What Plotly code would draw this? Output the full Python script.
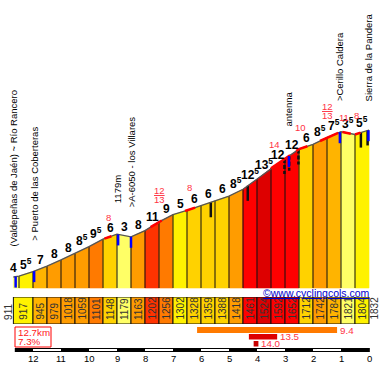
import numpy as np
import plotly.graph_objects as go

# ---------------- data ----------------
km_marks = [12.7, 12.5, 12.0, 11.5, 11.0, 10.5, 10.0, 9.5, 9.0, 8.5, 8.0, 7.5, 7.0,
            6.5, 6.0, 5.5, 5.0, 4.5, 4.0, 3.5, 3.0, 2.5, 2.0, 1.5, 1.0, 0.5, 0.0]
elevations = [911, 917, 945, 979, 1018, 1059, 1101, 1148, 1179, 1163, 1202, 1256, 1302,
              1328, 1359, 1388, 1418, 1461, 1524, 1592, 1652, 1712, 1742, 1784, 1821, 1804, 1832]
gradients = [4, 5.5, 7, 8, 8, 8.5, 9.5, 6, -3, 8, 11, 9, 5,
             6, 6, 6, 8.5, 12.5, 13.5, 12, 12, 6, 8.5, 7.5, -3.5, 5.5]

steep_km = [9.32, 7.5, 6.4, 3.36, 2.46, 1.5, 0.89, 0.46]
steep_labels = ["8", "12/13", "8", "14", "10", "12/13", "11", "8"]
steep_from_km = [9.45, 7.8, 6.57, 3.5, 2.6, 1.75, 0.95, 0.5]
steep_to_km = [9.2, 7.4, 6.21, 2.82, 2.2, 1.1, 0.65, 0.3]

poi_km = [12.7, 11.96, 9.0, 8.5, 2.86, 1.07, 0.03]
poi_names = ["(Valdepeñas de Jaén) ~ Río Rancero", "> Puerto de las Coberteras", "1179m",
             ">A-6050 - los Villares", "antenna", ">Cerillo Caldera", "Sierra de la Pandera"]

blue_km = [12.62, 11.96, 8.96, 8.5, 2.86, 1.04, 0.02]
marker_km = [5.65, 4.33, 3.02, 2.85, 2.52, 0.29, 0.05]
marker_dashed = [False, False, True, True, True, False, False]

km_ticks = [12, 11, 10, 9, 8, 7, 6, 5, 4, 3, 2, 1, 0]
climb_length_km = 12.7
climb_avg_pct = 7.3
best_from_km = [6.14, 4.29, 4.12]
best_to_km = [1.14, 3.28, 3.95]
best_pct = [9.4, 13.5, 14.0]
site = "©www.cyclingcols.com"

# ---------------- layout constants (pixels) ----------------
W, H = 384, 365
X_KM0 = 369.0          # pixel of km 0
PX_KM = 28.0           # pixels per km
Y_START = 277.0        # pixel of first elevation
PX_M = 147.0 / 921.0   # pixels per metre
BASE_PX = 288
TABLE_TOP, TABLE_BOT = 297, 324
FONT = "Liberation Sans, Arial, sans-serif"
RED_TXT = "#FF3344"


def elev_of_px(p):
    return elevations[0] + (Y_START - p) / PX_M


def py(p):
    return 1 - p / H


def px(p):
    return p / W


KM_ASC = km_marks[::-1]
EL_ASC = elevations[::-1]


def elev_at(k):
    return float(np.interp(k, KM_ASC, EL_ASC))


def grad_color(g):
    if g < 5:
        return "#FFFF66"
    if g < 6:
        return "#FFF200"
    if g < 7:
        return "#FFD200"
    if g < 8:
        return "#FFB400"
    if g < 9:
        return "#FF9C00"
    if g < 10:
        return "#FF7A00"
    if g < 12:
        return "#FF3300"
    if g < 13:
        return "#FF0000"
    if g < 14:
        return "#DD0000"
    return "#C80000"


def grad_text(g):
    a = abs(g)
    w = int(a)
    s = str(w) + ("<sup>5</sup>" if a - w >= 0.5 else "")
    return "<b>" + s + "</b>"


BASE = elev_of_px(BASE_PX)
M_PER_PX = 1 / PX_M

fig = go.Figure()

# profile segments
for i in range(len(gradients)):
    k0, k1 = km_marks[i], km_marks[i + 1]
    e0, e1 = elevations[i], elevations[i + 1]
    c = grad_color(gradients[i])
    fig.add_trace(go.Scatter(x=[k0, k0, k1, k1, k0], y=[BASE, e0, e1, BASE, BASE],
                             fill="toself", fillcolor=c, mode="lines",
                             line=dict(width=0.6, color=c), hoverinfo="skip"))

# separators
sx, sy = [], []
for k, e in zip(km_marks[1:-1], elevations[1:-1]):
    sx += [k, k, None]
    sy += [BASE, e, None]
fig.add_trace(go.Scatter(x=sx, y=sy, mode="lines", line=dict(color="#111", width=1), hoverinfo="skip"))

# black markers
for k, d in zip(marker_km, marker_dashed):
    e = elev_at(k)
    fig.add_trace(go.Scatter(x=[k, k], y=[e, e - 15 * M_PER_PX], mode="lines",
                             line=dict(color="#111", width=2.5, dash="4px,2px" if d else "solid"),
                             hoverinfo="skip"))

# profile line
fig.add_trace(go.Scatter(x=km_marks, y=elevations, mode="lines",
                         line=dict(color="#555", width=1.3), hoverinfo="skip"))

# steep red highlights
for a, b in zip(steep_from_km, steep_to_km):
    ks = [a] + [k for k in km_marks if b < k < a] + [b]
    fig.add_trace(go.Scatter(x=ks, y=[elev_at(k) for k in ks], mode="lines",
                             line=dict(color="#FF0000", width=2.5), hoverinfo="skip"))

# blue markers
for k in blue_km:
    e = elev_at(k)
    fig.add_trace(go.Scatter(x=[k, k], y=[e, e - 11 * M_PER_PX], mode="lines",
                             line=dict(color="#0000FF", width=2.5), hoverinfo="skip"))

# elevation table (bars on y2)
t_mid, t_w, t_col, t_lab = [], [], [], []
for j in range(1, len(gradients)):
    k0 = km_marks[0] if j == 1 else km_marks[j]
    k1 = km_marks[j + 1]
    t_mid.append((k0 + k1) / 2)
    t_w.append(k0 - k1)
    t_col.append(grad_color(gradients[j]))
    t_lab.append(str(elevations[j]))
fig.add_trace(go.Bar(x=t_mid, y=[1] * len(t_mid), width=t_w, base=0, yaxis="y2",
                     marker=dict(color=t_col, line=dict(color="#111", width=1)),
                     hoverinfo="skip"))

ann = []
# gradient labels
for i, g in enumerate(gradients):
    km = (km_marks[i] + km_marks[i + 1]) / 2
    ann.append(dict(x=km, y=elev_at(km), text=grad_text(g), showarrow=False,
                    yanchor="bottom", xanchor="center", xshift=-3 if i == 0 else 0,
                    font=dict(family=FONT, size=12, color="#000")))

# steep labels
lifts = [20, 27, 21.5, 21.5, 21, 27, 15, 19]
for k, t, lift in zip(steep_km, steep_labels, lifts):
    e = elev_at(k)
    if "/" in t:
        n, d = t.split("/")
        ann.append(dict(x=k, y=e, text="<u>" + n + "</u>", showarrow=False, yanchor="middle",
                        yshift=lift + 4.5, font=dict(family=FONT, size=9.5, color=RED_TXT)))
        ann.append(dict(x=k, y=e, text=d, showarrow=False, yanchor="middle",
                        yshift=lift - 4.5, font=dict(family=FONT, size=9.5, color=RED_TXT)))
    else:
        ann.append(dict(x=k, y=e, text=t, showarrow=False, yanchor="middle",
                        yshift=lift, font=dict(family=FONT, size=9.5, color=RED_TXT)))

# points of interest
gaps = [29, 28.6, 29, 27, 28, 29, 27]
for k, name, gp in zip(poi_km, poi_names, gaps):
    ann.append(dict(x=k, y=elev_at(k), text=name, showarrow=False, textangle=-90,
                    xanchor="center", yanchor="bottom", yshift=gp,
                    font=dict(family=FONT, size=9.5, color="#000")))

# table labels (read bottom to top)
for m, t in zip(t_mid, t_lab):
    ann.append(dict(x=m, y=py(322), yref="paper", text=t, showarrow=False, textangle=-90,
                    xanchor="center", yanchor="bottom",
                    font=dict(family=FONT, size=10, color="#333")))
ann.append(dict(x=km_marks[0], xshift=-5.5, y=py(322), yref="paper", text=str(elevations[0]),
                showarrow=False, textangle=-90, yanchor="bottom",
                font=dict(family=FONT, size=10, color="#333")))
ann.append(dict(x=km_marks[-1], xshift=5, y=py(322), yref="paper", text=str(elevations[-1]),
                showarrow=False, textangle=-90, yanchor="bottom",
                font=dict(family=FONT, size=10, color="#333")))

# km labels
for k in km_ticks:
    ann.append(dict(x=k, y=py(358.7), yref="paper", text=str(k), showarrow=False,
                    yanchor="middle", font=dict(family=FONT, size=9.5, color="#000")))

# summary box text
ann.append(dict(x=px(16.3), xref="paper", y=py(332.7), yref="paper", text=f"{climb_length_km}km",
                showarrow=False, xanchor="left", yanchor="middle",
                font=dict(family=FONT, size=9.8, color="#FF2020")))
ann.append(dict(x=px(16.3), xref="paper", y=py(341.2), yref="paper", text=f"{climb_avg_pct}%",
                showarrow=False, xanchor="left", yanchor="middle",
                font=dict(family=FONT, size=9.8, color="#FF2020")))

# best-section bars
rows = [(327, 333), (334, 339.5), (341, 346.5)]
shapes = []
for (a, b, p), (y0, y1) in zip(zip(best_from_km, best_to_km, best_pct), rows):
    shapes.append(dict(type="rect", xref="x", yref="paper", x0=a, x1=b, y0=py(y1), y1=py(y0),
                       fillcolor=grad_color(p), line=dict(width=0)))
    ann.append(dict(x=b, y=py((y0 + y1) / 2), yref="paper", text=f"{p:.1f}", showarrow=False,
                    xanchor="left", yanchor="middle", xshift=1,
                    font=dict(family=FONT, size=9.8, color=RED_TXT)))

# summary box
shapes.append(dict(type="rect", xref="paper", yref="paper", x0=px(15), x1=px(51),
                   y0=py(347), y1=py(327), line=dict(color="#FF0000", width=1)))

# km scale bar
shapes.append(dict(type="rect", xref="x", yref="paper", x0=km_marks[0] - 0.05, x1=km_marks[-1] - 0.03,
                   y0=py(352), y1=py(348), fillcolor="#000", line=dict(width=0)))
for i in range(0, len(km_ticks) - 1, 2):
    shapes.append(dict(type="rect", xref="x", yref="paper", x0=km_ticks[i], x1=km_ticks[i + 1],
                       y0=py(351), y1=py(349), fillcolor="#FFF", line=dict(width=0)))

# site link
ann.append(dict(x=px(371.7), xref="paper", y=py(293), yref="paper", text="<u>" + site + "</u>",
                showarrow=False, xanchor="right", yanchor="middle",
                font=dict(family=FONT, size=10.5, color="#0000CC")))

fig.update_layout(
    width=W, height=H, margin=dict(l=0, r=0, t=0, b=0),
    paper_bgcolor="white", plot_bgcolor="white", showlegend=False,
    xaxis=dict(range=[X_KM0 / PX_KM, (X_KM0 - W) / PX_KM], visible=False, fixedrange=True),
    yaxis=dict(range=[elev_of_px(H), elev_of_px(0)], visible=False, domain=[0, 1], fixedrange=True),
    yaxis2=dict(range=[0, 1], visible=False, domain=[py(TABLE_BOT), py(TABLE_TOP)],
                anchor="x", fixedrange=True),
    annotations=ann, shapes=shapes,
)

fig.write_html("out.html", include_plotlyjs=True, full_html=True,
               config={"displayModeBar": False, "staticPlot": True},
               post_script="document.body.style.margin='0';")
